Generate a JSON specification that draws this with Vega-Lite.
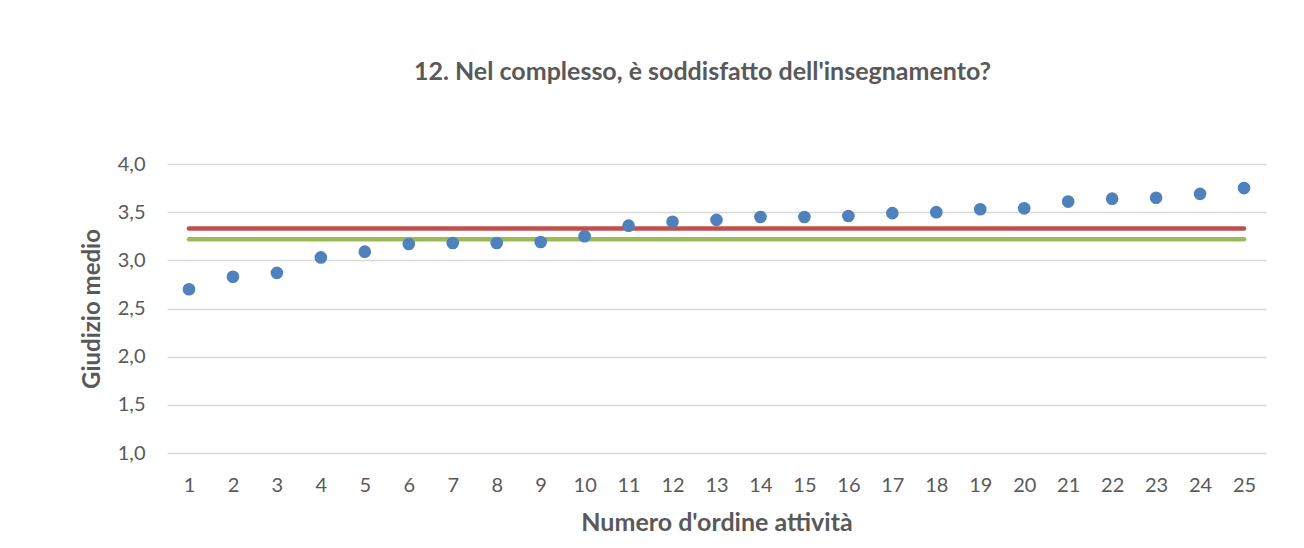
{
  "$schema": "https://vega.github.io/schema/vega-lite/v6.json",
  "width": 1099,
  "height": 289,
  "autosize": {"type": "none"},
  "padding": {"left": 167, "top": 164, "right": 38, "bottom": 95},
  "background": "white",
  "title": {
    "text": "12. Nel complesso, è soddisfatto dell'insegnamento?",
    "font": "Lato",
    "fontSize": 25,
    "fontWeight": "bold",
    "color": "#595959",
    "offset": 69,
    "dx": -14
  },
  "config": {"view": {"stroke": null}, "font": "Lato"},
  "datasets": {
    "punti": [
      {"attivita": 1, "giudizio": 2.70},
      {"attivita": 2, "giudizio": 2.83},
      {"attivita": 3, "giudizio": 2.87},
      {"attivita": 4, "giudizio": 3.03},
      {"attivita": 5, "giudizio": 3.09},
      {"attivita": 6, "giudizio": 3.17},
      {"attivita": 7, "giudizio": 3.18},
      {"attivita": 8, "giudizio": 3.18},
      {"attivita": 9, "giudizio": 3.19},
      {"attivita": 10, "giudizio": 3.25},
      {"attivita": 11, "giudizio": 3.36},
      {"attivita": 12, "giudizio": 3.40},
      {"attivita": 13, "giudizio": 3.42},
      {"attivita": 14, "giudizio": 3.45},
      {"attivita": 15, "giudizio": 3.45},
      {"attivita": 16, "giudizio": 3.46},
      {"attivita": 17, "giudizio": 3.49},
      {"attivita": 18, "giudizio": 3.50},
      {"attivita": 19, "giudizio": 3.53},
      {"attivita": 20, "giudizio": 3.54},
      {"attivita": 21, "giudizio": 3.61},
      {"attivita": 22, "giudizio": 3.64},
      {"attivita": 23, "giudizio": 3.65},
      {"attivita": 24, "giudizio": 3.69},
      {"attivita": 25, "giudizio": 3.75}
    ],
    "linee": [
      {"attivita": 1, "serie": "media1", "giudizio": 3.33},
      {"attivita": 25, "serie": "media1", "giudizio": 3.33},
      {"attivita": 1, "serie": "media2", "giudizio": 3.22},
      {"attivita": 25, "serie": "media2", "giudizio": 3.22}
    ]
  },
  "encoding": {
    "x": {
      "field": "attivita",
      "type": "ordinal",
      "scale": {"type": "point", "padding": 0.5},
      "axis": {
        "title": "Numero d'ordine attività",
        "labelAngle": 0,
        "grid": false,
        "ticks": false,
        "domain": false,
        "labelFontSize": 20,
        "labelColor": "#595959",
        "labelPadding": 22,
        "titleFontSize": 25,
        "titleFontWeight": "bold",
        "titleColor": "#595959",
        "titlePadding": 15
      }
    },
    "y": {
      "field": "giudizio",
      "type": "quantitative",
      "scale": {"domain": [1, 4], "zero": false, "nice": false},
      "axis": {
        "title": "Giudizio medio",
        "values": [1, 1.5, 2, 2.5, 3, 3.5, 4],
        "labelExpr": "replace(format(datum.value, '.1f'), '.', ',')",
        "ticks": false,
        "domain": false,
        "gridColor": "#d9d9d9",
        "gridWidth": 1.5,
        "labelFontSize": 20,
        "labelColor": "#595959",
        "labelPadding": 22,
        "titleFontSize": 24,
        "titleFontWeight": "bold",
        "titleColor": "#595959",
        "titlePadding": 13
      }
    }
  },
  "layer": [
    {
      "data": {"name": "linee"},
      "mark": {"type": "line", "strokeWidth": 4.5, "strokeCap": "round"},
      "encoding": {
        "color": {
          "field": "serie",
          "type": "nominal",
          "scale": {"domain": ["media1", "media2"], "range": ["#c0504d", "#9bbb59"]},
          "legend": null
        }
      }
    },
    {
      "data": {"name": "punti"},
      "mark": {"type": "circle", "size": 160, "opacity": 1, "color": "#4f81bd"}
    }
  ]
}
